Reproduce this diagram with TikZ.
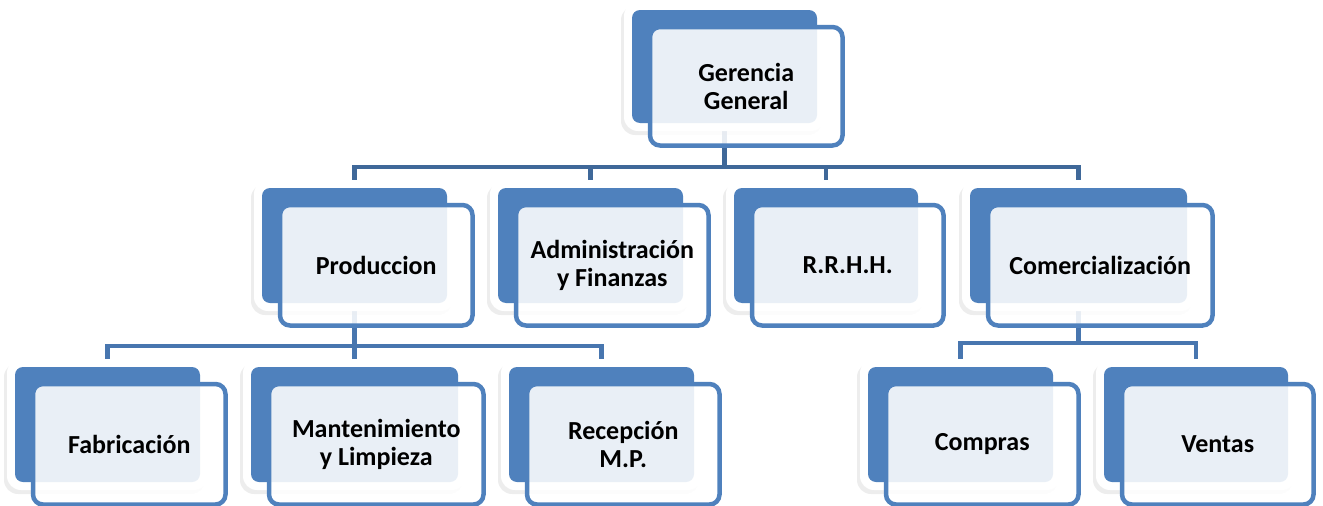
\documentclass[tikz,border=0pt]{standalone}
\usepackage{fontspec}
\setmainfont{Carlito}
\definecolor{accent}{HTML}{4F81BD}
\definecolor{connA}{HTML}{3F6899}
\definecolor{connB}{HTML}{4876AF}
\pgfdeclarelayer{connlayer}
\pgfsetlayers{connlayer,main}
\tikzset{
  backbox/.style={fill=accent, draw=none, rounded corners=8pt, inner sep=0pt, outer sep=0pt, anchor=north west},
  frontbox/.style={draw=accent, line width=4.5pt, fill=white, fill opacity=0.88, text opacity=1,
    rounded corners=10pt, inner sep=0pt, outer sep=0pt, anchor=north west, align=center,
    font=\bfseries\fontsize{26}{28.5}\selectfont, text=black},
  halo/.style={fill=white, rounded corners=14pt},
  haloshadow/.style={fill=black, opacity=0.07, rounded corners=14pt},
  connTop/.style={draw=connA, line width=4.5pt, line join=miter},
  connLow/.style={draw=connB, line width=4.5pt, line join=miter},
}
\newcommand\orgunit[6]{%
  \fill[haloshadow] ({#2-11},{#3-4}) rectangle ({#4+5},{#5+12});
  \fill[halo] ({#2-8},{#3-8}) rectangle ({#4+8},{#5+8});
  \node[backbox, minimum width={(#4-#2)*1pt}, minimum height={(#5-#3)*1pt}] (b-#1) at (#2,#3) {};
  \node[frontbox, minimum width={(#4-#2+7.5)*1pt}, minimum height={(#5-#3+5.5)*1pt}] (#1) at ({#2+18},{#3+17}) {#6};
}
\begin{document}
\begin{tikzpicture}[x=1pt,y=-1pt]
\useasboundingbox (0,0) rectangle (1323,506);
\orgunit{gg}{632}{10}{817}{123}{Gerencia\\General}
\orgunit{prod}{262}{188}{447}{303}{Produccion}
\orgunit{adm}{498}{188}{683}{303}{Administración\\y Finanzas}
\orgunit{rrhh}{734}{188}{918}{303}{R.R.H.H.}
\orgunit{com}{970}{188}{1187}{303}{Comercialización}
\orgunit{fab}{15}{367}{200}{482}{Fabricación}
\orgunit{man}{251}{367}{458}{482}{Mantenimiento\\y Limpieza}
\orgunit{rec}{509}{367}{694}{482}{Recepción\\M.P.}
\orgunit{comp}{868}{367}{1053}{482}{Compras}
\orgunit{ven}{1104}{367}{1288}{482}{Ventas}
\begin{pgfonlayer}{connlayer}
  \foreach \c in {prod,adm,rrhh,com}
    \draw[connTop] (b-gg.south) -- ++(0,44) -| (b-\c.north);
  \foreach \c in {fab,man,rec}
    \draw[connLow] (b-prod.south) -- ++(0,43) -| (b-\c.north);
  \foreach \c in {comp,ven}
    \draw[connLow] (b-com.south) -- ++(0,40) -| (b-\c.north);
\end{pgfonlayer}
\end{tikzpicture}
\end{document}
